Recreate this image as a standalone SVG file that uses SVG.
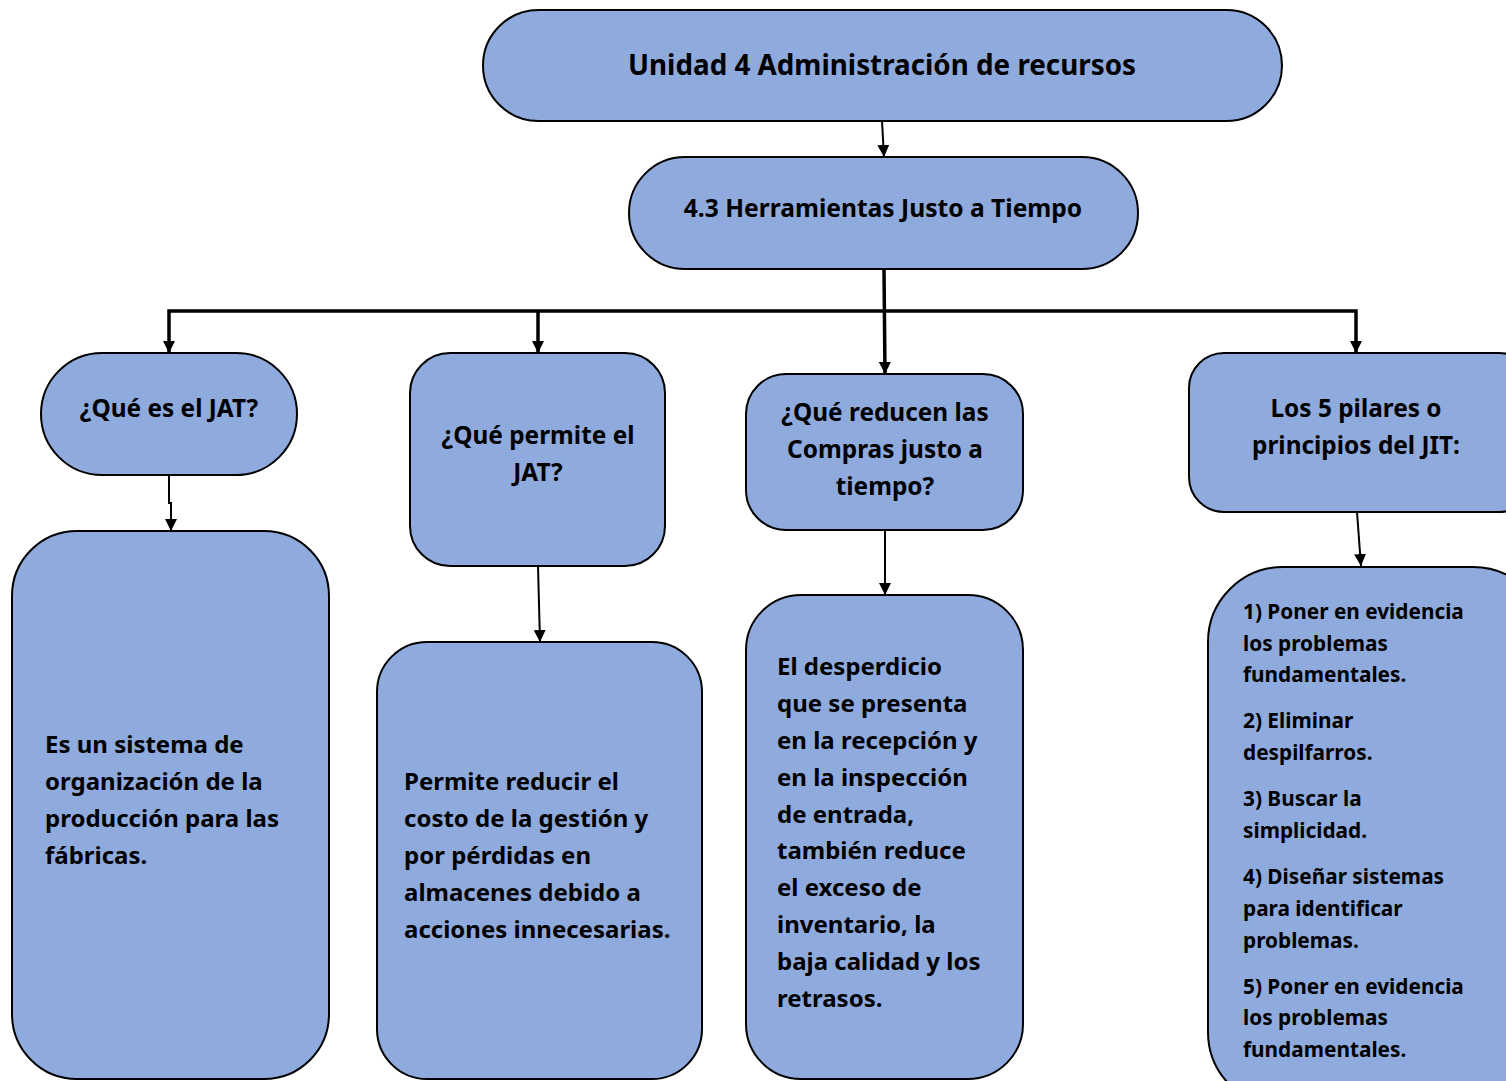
<svg xmlns="http://www.w3.org/2000/svg" width="1506" height="1081" viewBox="0 0 1506 1081">
<style>
.n{fill:#8faadc;stroke:#000;stroke-width:2}
.t{font-family:"Noto Sans","Open Sans","Liberation Sans",sans-serif;font-weight:bold;fill:#000}
.c{text-anchor:middle}
.h{font-size:24.4px}
.b{font-size:24px}
.c1{stroke:#000;stroke-width:2;fill:none}
.c3{stroke:#000;stroke-width:3.5;fill:none}
</style>
<defs>
<marker id="ah" markerUnits="userSpaceOnUse" markerWidth="12" markerHeight="12" viewBox="0 0 12 12" refX="12" refY="6" orient="auto">
<path d="M0,0 L12,6 L0,12 z" fill="#000"/>
</marker>
</defs>
<rect width="1506" height="1081" fill="#fff"/>
<g id="connectors">
<path class="c1" d="M882,121 L884,157" marker-end="url(#ah)"/>
<path class="c3" d="M884,269 L885,374" marker-end="url(#ah)"/>
<path class="c3" d="M169,353 V311 H1356 V353" />
<path class="c3" d="M538,311 V353"/>
<path d="M163,341 L169,353 L175,341 z M532,341 L538,353 L544,341 z M1350,341 L1356,353 L1362,341 z" fill="#000"/>
<path class="c1" d="M169,475 V503 H171 V531" marker-end="url(#ah)"/>
<path class="c1" d="M538,566 L540,642" marker-end="url(#ah)"/>
<path class="c1" d="M885,530 L885,595" marker-end="url(#ah)"/>
<path class="c1" d="M1357,512 L1361,566" marker-end="url(#ah)"/>
</g>
<g id="n1">
<rect class="n" x="483" y="10" width="799" height="111" rx="55.5"/>
<text class="t c" x="882" y="75" font-size="27.8">Unidad 4 Administración de recursos</text>
</g>
<g id="n2">
<rect class="n" x="629" y="157" width="509" height="112" rx="56"/>
<text class="t c" x="883" y="217" font-size="24.6">4.3 Herramientas Justo a Tiempo</text>
</g>
<g id="n3">
<rect class="n" x="41" y="353" width="256" height="122" rx="61"/>
<text class="t c h" x="169" y="417">¿Qué es el JAT?</text>
</g>
<g id="n4">
<rect class="n" x="410" y="353" width="255" height="213" rx="40"/>
<text class="t c h"><tspan x="538" y="444">¿Qué permite el</tspan><tspan x="538" y="481">JAT?</tspan></text>
</g>
<g id="n5">
<rect class="n" x="746" y="374" width="277" height="156" rx="40"/>
<text class="t c h"><tspan x="885" y="421">¿Qué reducen las</tspan><tspan x="885" y="458">Compras justo a</tspan><tspan x="885" y="495">tiempo?</tspan></text>
</g>
<g id="n6">
<rect class="n" x="1189" y="353" width="345" height="159" rx="35"/>
<text class="t c h"><tspan x="1356" y="417">Los 5 pilares o</tspan><tspan x="1356" y="454">principios del JIT:</tspan></text>
</g>
<g id="n7">
<rect class="n" x="12" y="531" width="317" height="548" rx="65"/>
<text class="t b"><tspan x="45" y="753">Es un sistema de</tspan><tspan x="45" y="790">organización de la</tspan><tspan x="45" y="827">producción para las</tspan><tspan x="45" y="864">fábricas.</tspan></text>
</g>
<g id="n8">
<rect class="n" x="377" y="642" width="325" height="437" rx="50"/>
<text class="t b"><tspan x="404" y="790">Permite reducir el</tspan><tspan x="404" y="827">costo de la gestión y</tspan><tspan x="404" y="864">por pérdidas en</tspan><tspan x="404" y="901">almacenes debido a</tspan><tspan x="404" y="938">acciones innecesarias.</tspan></text>
</g>
<g id="n9">
<rect class="n" x="746" y="595" width="277" height="484" rx="55"/>
<text class="t b"><tspan x="777" y="675">El desperdicio</tspan><tspan x="777" y="712">que se presenta</tspan><tspan x="777" y="749">en la recepción y</tspan><tspan x="777" y="786">en la inspección</tspan><tspan x="777" y="823">de entrada,</tspan><tspan x="777" y="859">también reduce</tspan><tspan x="777" y="896">el exceso de</tspan><tspan x="777" y="933">inventario, la</tspan><tspan x="777" y="970">baja calidad y los</tspan><tspan x="777" y="1007">retrasos.</tspan></text>
</g>
<g id="n10">
<rect class="n" x="1208" y="567" width="340" height="540" rx="75"/>
<text class="t" font-size="20.8"><tspan x="1243" y="619">1) Poner en evidencia</tspan><tspan x="1243" y="651">los problemas</tspan><tspan x="1243" y="682">fundamentales.</tspan><tspan x="1243" y="728">2) Eliminar</tspan><tspan x="1243" y="760">despilfarros.</tspan><tspan x="1243" y="806">3) Buscar la</tspan><tspan x="1243" y="838">simplicidad.</tspan><tspan x="1243" y="884">4) Diseñar sistemas</tspan><tspan x="1243" y="916">para identificar</tspan><tspan x="1243" y="948">problemas.</tspan><tspan x="1243" y="994">5) Poner en evidencia</tspan><tspan x="1243" y="1025">los problemas</tspan><tspan x="1243" y="1057">fundamentales.</tspan></text>
</g>
</svg>
